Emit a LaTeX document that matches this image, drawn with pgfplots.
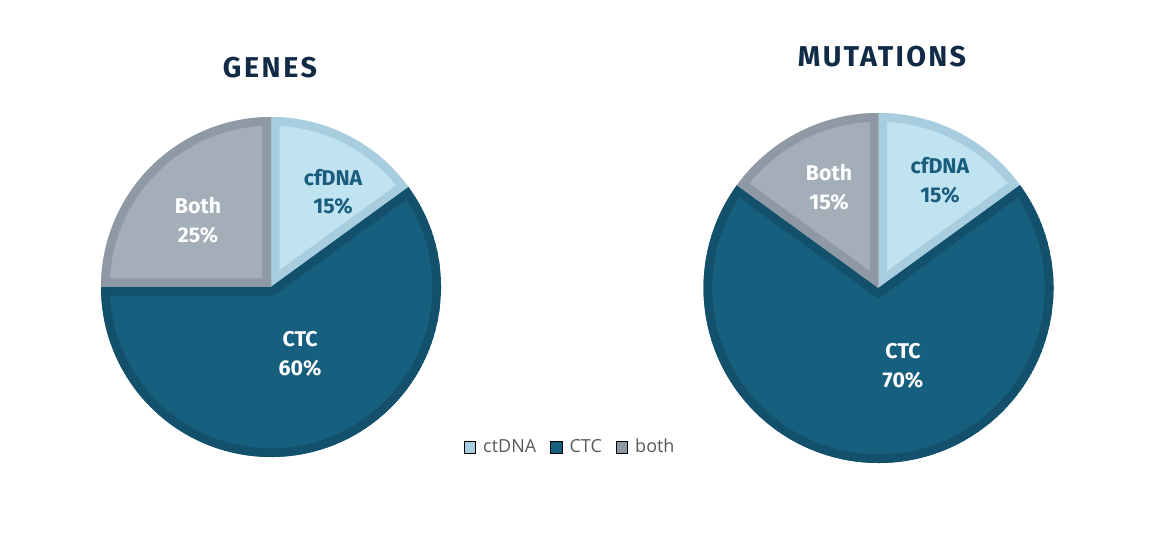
\documentclass[border=0pt]{standalone}
\usepackage{pgfplots}
\usepackage{pgfplotstable}
\pgfplotsset{compat=1.18}
\usepackage{fontspec}
\setmainfont{Fira Sans}
\newfontfamily\legfont{Open Sans}
\definecolor{lightfill}{HTML}{C0E3F2}
\definecolor{lightborder}{HTML}{A7CDDE}
\definecolor{darkfill}{HTML}{175F7F}
\definecolor{darkborder}{HTML}{12506C}
\definecolor{grayfill}{HTML}{A3AEB9}
\definecolor{grayborder}{HTML}{8E99A5}
\definecolor{titlecol}{HTML}{112B47}
\definecolor{labdark}{HTML}{1A5C7C}
\definecolor{legtext}{HTML}{595959}

\pgfplotstableread{
slice value
cfDNA 15
CTC 60
Both 25
}\genesdata
\pgfplotstableread{
slice value
cfDNA 15
CTC 70
Both 15
}\mutdata

% #1 cumulative before, #2 value, #3 fill, #4 border, #5 radius
\newcommand{\pieslice}[5]{%
  \pgfmathsetmacro\sa{90-3.6*(#1)}%
  \pgfmathsetmacro\ea{90-3.6*((#1)+(#2))}%
  \begin{scope}
    \clip (axis cs:0,0) -- ++(\sa:#5) arc[start angle=\sa,end angle=\ea,radius=#5] -- cycle;
    \fill[#3] (axis cs:0,0) -- ++(\sa:#5) arc[start angle=\sa,end angle=\ea,radius=#5] -- cycle;
    \draw[#4,line width=13pt,line join=miter] (axis cs:0,0) -- ++(\sa:#5) arc[start angle=\sa,end angle=\ea,radius=#5] -- cycle;
  \end{scope}}

% #1 table, #2 radius
\newcommand{\drawpie}[2]{%
  \pgfplotstablegetelem{0}{value}\of#1\edef\va{\pgfplotsretval}%
  \pgfplotstablegetelem{1}{value}\of#1\edef\vb{\pgfplotsretval}%
  \pgfplotstablegetelem{2}{value}\of#1\edef\vc{\pgfplotsretval}%
  \pieslice{0}{\va}{lightfill}{lightborder}{#2}%
  \pieslice{\va}{\vb}{darkfill}{darkborder}{#2}%
  \pieslice{\va+\vb}{\vc}{grayfill}{grayborder}{#2}%
}

\tikzset{lab/.style={align=center, font=\fontsize{16}{21.5}\selectfont\bfseries}}

\begin{document}
\begin{tikzpicture}
\useasboundingbox[fill=white] (0,0) rectangle (869.25pt,399pt);

\node[font=\fontsize{21.5}{24}\selectfont\bfseries\addfontfeatures{LetterSpace=9}, text=titlecol] at (202.5pt,348pt) {GENES};
\node[font=\fontsize{21.5}{24}\selectfont\bfseries\addfontfeatures{LetterSpace=8}, text=titlecol] at (661.5pt,356.25pt) {MUTATIONS};

\begin{axis}[
  at={(203.25pt,183.75pt)}, anchor=center,
  width=255pt, height=255pt, scale only axis,
  xmin=-1, xmax=1, ymin=-1, ymax=1,
  hide axis, clip=false,
  legend columns=3,
  legend style={at={(1.381,0.029)}, anchor=center, draw=none, fill=none,
    font=\legfont\fontsize{13.5}{15}\selectfont, text=legtext,
    /tikz/every odd column/.append style={column sep=3.5pt},
    /tikz/every even column/.append style={column sep=8.5pt},
    inner sep=0pt},
  legend image code/.code={\fill[#1] (0pt,-4.3pt) rectangle (8.6pt,4.3pt);},
]
\pgfplotsextra{\drawpie{\genesdata}{127.5pt}}
\addlegendimage{fill=lightborder}
\addlegendentry{ctDNA}
\addlegendimage{fill=darkfill}
\addlegendentry{CTC}
\addlegendimage{fill=grayborder}
\addlegendentry{both}
\node[lab, text=labdark] at (axis cs:0.365,0.559) {cfDNA\\15\%};
\node[lab, text=white] at (axis cs:-0.429,0.394) {Both\\25\%};
\node[lab, text=white] at (axis cs:0.171,-0.394) {CTC\\60\%};
\end{axis}

\begin{axis}[
  at={(658.875pt,183pt)}, anchor=center,
  width=262.5pt, height=262.5pt, scale only axis,
  xmin=-1, xmax=1, ymin=-1, ymax=1,
  hide axis, clip=false,
]
\pgfplotsextra{\drawpie{\mutdata}{131.25pt}}
\node[lab, text=labdark] at (axis cs:0.351,0.617) {cfDNA\\15\%};
\node[lab, text=white] at (axis cs:-0.283,0.577) {Both\\15\%};
\node[lab, text=white] at (axis cs:0.14,-0.446) {CTC\\70\%};
\end{axis}
\end{tikzpicture}
\end{document}
